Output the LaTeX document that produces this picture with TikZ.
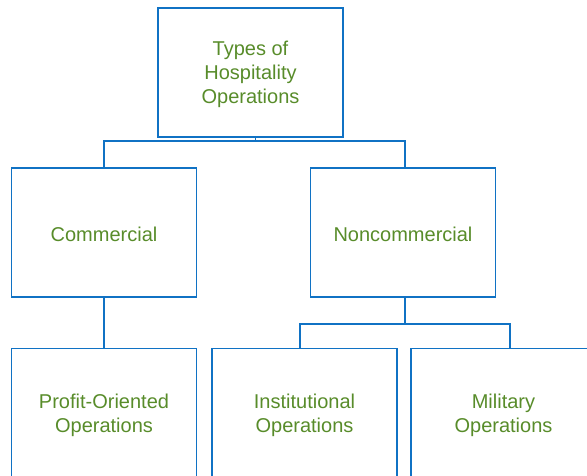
\documentclass[tikz,border=0pt]{standalone}
\usepackage{fontspec}
\setmainfont{Liberation Sans}
\definecolor{boxblue}{RGB}{16,114,196}
\definecolor{txtgreen}{RGB}{88,140,42}
\begin{document}
\begin{tikzpicture}[x=1pt,y=-1pt,
  box/.style={draw=boxblue,line width=1.4pt,minimum width=185pt,minimum height=129pt,inner sep=0pt},
  lbl/.style={align=center,text=txtgreen,font=\fontsize{20}{24}\selectfont,yshift=-1.5pt},
  link/.style={draw=boxblue,line width=1.4pt}]
\useasboundingbox (0,0) rectangle (587,476);
\clip (0,0) rectangle (587,476);
\node[box,label={[lbl]center:{Types of\\Hospitality\\Operations}}] (top) at (250.5,72.5) {};
\node[box,label={[lbl]center:Commercial}] (comm) at (104,232.5) {};
\node[box,label={[lbl]center:Noncommercial}] (noncomm) at (403,232.5) {};
\node[box,minimum height=130pt,label={[lbl]center:{Profit-Oriented\\Operations}}] (profit) at (104,413.5) {};
\node[box,minimum height=130pt,label={[lbl]center:{Institutional\\Operations}}] (inst) at (304.5,413.5) {};
\node[box,minimum height=130pt,label={[lbl]center:{Military\\Operations}}] (mil) at (503.5,413.5) {};
\coordinate (j1) at (255.5,141);
\coordinate (j2) at (405,324);
\draw[link] ([xshift=5pt]top.south) -- (j1);
\draw[link] (comm.north) |- (j1) -| ([xshift=2pt]noncomm.north);
\draw[link] (comm.south) -- (profit.north);
\draw[link] ([xshift=2pt]noncomm.south) -- (j2);
\draw[link] ([xshift=-4.5pt]inst.north) |- (j2) -| ([xshift=6.5pt]mil.north);
\end{tikzpicture}
\end{document}
